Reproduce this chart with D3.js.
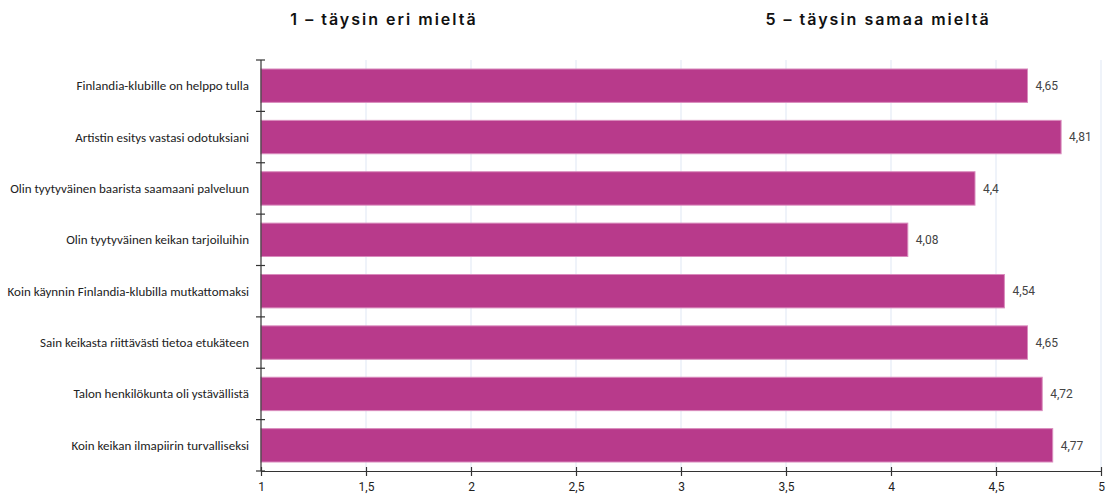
<!DOCTYPE html>
<html>
<head>
<meta charset="utf-8">
<script src="https://cdn.jsdelivr.net/npm/d3@7"></script>
<style>
  body { margin: 0; background: #fff; }
  svg { display: block; }
</style>
</head>
<body>
<svg id="chart" width="1110" height="495"></svg>
<script>
// Survey statements and their mean scores (scale 1–5)
const statements = [
  "Finlandia-klubille on helppo tulla",
  "Artistin esitys vastasi odotuksiani",
  "Olin tyytyväinen baarista saamaani palveluun",
  "Olin tyytyväinen keikan tarjoiluihin",
  "Koin käynnin Finlandia-klubilla mutkattomaksi",
  "Sain keikasta riittävästi tietoa etukäteen",
  "Talon henkilökunta oli ystävällistä",
  "Koin keikan ilmapiirin turvalliseksi"
];
const scores = [4.65, 4.81, 4.4, 4.08, 4.54, 4.65, 4.72, 4.77];
const xTicks = [1, 1.5, 2, 2.5, 3, 3.5, 4, 4.5, 5];
const scaleEnds = ["1 – täysin eri mieltä", "5 – täysin samaa mieltä"];

const svg = d3.select("#chart");
const plotLeft = 261, plotRight = 1101, plotTop = 60, plotBottom = 471;

const x = d3.scaleLinear().domain([1, 5]).range([plotLeft, plotRight]);
const y = d3.scaleBand().domain(statements).range([plotTop, plotBottom]).paddingInner(0.35).paddingOuter(0.175);
const fmt = v => String(v).replace(".", ",");

// vertical grid lines
svg.append("g").selectAll("line")
  .data(xTicks.slice(1))
  .join("line")
  .attr("x1", d => x(d)).attr("x2", d => x(d))
  .attr("y1", plotTop).attr("y2", plotBottom)
  .attr("stroke", "#dfe7f4").attr("stroke-width", 1);

// bars
svg.append("g").selectAll("rect")
  .data(statements)
  .join("rect")
  .attr("x", x(1))
  .attr("y", d => y(d))
  .attr("width", (d, i) => x(scores[i]) - x(1))
  .attr("height", y.bandwidth())
  .attr("fill", "#b83a8b")
  .attr("stroke", "#d98cbd")
  .attr("stroke-width", 1);

// value labels
svg.append("g").selectAll("text")
  .data(statements)
  .join("text")
  .attr("x", (d, i) => x(scores[i]) + 8)
  .attr("y", d => y(d) + y.bandwidth() / 2)
  .attr("dy", "0.35em")
  .attr("font-family", "Roboto, sans-serif")
  .attr("font-size", 12)
  .attr("fill", "#444")
  .text((d, i) => fmt(scores[i]));

// category axis (left): ticks at band boundaries
const yAxis = svg.append("g");
yAxis.append("line")
  .attr("x1", plotLeft).attr("x2", plotLeft)
  .attr("y1", plotTop).attr("y2", plotBottom)
  .attr("stroke", "#333").attr("stroke-width", 1.2);
const bounds = d3.range(statements.length + 1).map(i => plotTop + i * (plotBottom - plotTop) / statements.length);
yAxis.selectAll("line.tick")
  .data(bounds)
  .join("line")
  .attr("class", "tick")
  .attr("x1", plotLeft - 5).attr("x2", plotLeft + 4)
  .attr("y1", d => d).attr("y2", d => d)
  .attr("stroke", "#333").attr("stroke-width", 1.2);
yAxis.selectAll("text")
  .data(statements)
  .join("text")
  .attr("x", 249)
  .attr("y", d => y(d) + y.bandwidth() / 2)
  .attr("dy", "0.35em")
  .attr("text-anchor", "end")
  .attr("font-family", "Carlito, Lato, sans-serif")
  .attr("font-size", 13)
  .attr("fill", "#222")
  .text(d => d);

// value axis (bottom)
const xAxis = svg.append("g").attr("transform", `translate(0,${plotBottom})`)
  .call(d3.axisBottom(x).tickValues(xTicks).tickFormat(fmt).tickSize(5).tickPadding(6).tickSizeOuter(0));
xAxis.select(".domain").attr("stroke", "#333").attr("stroke-width", 1.2);
xAxis.selectAll(".tick line").attr("y1", -4).attr("stroke", "#333").attr("stroke-width", 1.2);
xAxis.selectAll("text")
  .attr("font-family", "Roboto, sans-serif")
  .attr("font-size", 12)
  .attr("fill", "#222");

// scale end headings
svg.append("g").selectAll("text")
  .data(scaleEnds)
  .join("text")
  .attr("x", (d, i) => i === 0 ? 384 : 878)
  .attr("y", 25)
  .attr("text-anchor", "middle")
  .attr("font-family", "Inter, 'DejaVu Sans', sans-serif")
  .attr("font-weight", 600)
  .attr("font-size", 16)
  .attr("letter-spacing", 2)
  .attr("fill", "#111")
  .text(d => d);
</script>
</body>
</html>
